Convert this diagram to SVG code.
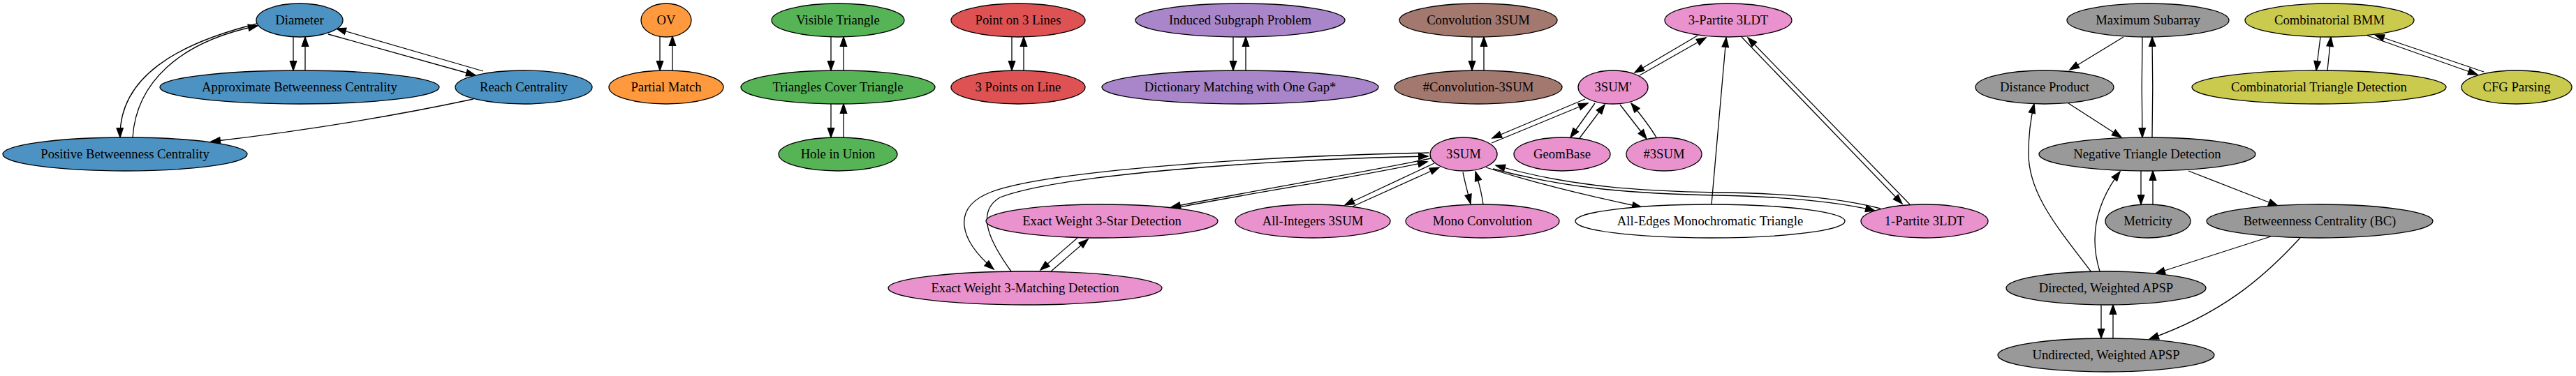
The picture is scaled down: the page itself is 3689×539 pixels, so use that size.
<svg xmlns="http://www.w3.org/2000/svg" width="3689" height="539" viewBox="0 0 3689 539">
<style>
.n ellipse{stroke:#000;stroke-width:1.3}
.n text{font-family:"Liberation Serif","Times New Roman",serif;font-size:18.67px;text-anchor:middle;fill:#000}
.b ellipse{fill:#4c92c3}.o ellipse{fill:#ff993e}.g ellipse{fill:#56b356}.r ellipse{fill:#de5253}
.p ellipse{fill:#a985ca}.br ellipse{fill:#a3786f}.pk ellipse{fill:#e992ce}.gr ellipse{fill:#999999}
.ol ellipse{fill:#c9ca4e}.w ellipse{fill:#ffffff}
#edges path{fill:none;stroke:#000;stroke-width:1.3;marker-end:url(#arr)}
</style>
<defs>
<marker id="arr" markerUnits="userSpaceOnUse" markerWidth="16" markerHeight="12" refX="13.3" refY="4.67" orient="auto" overflow="visible">
<path d="M0,0 L13.3,4.67 L0,9.33 Z" fill="#000" stroke="#000" stroke-width="1.3"/>
</marker>
</defs>
<rect width="3689" height="539" fill="#fff"/>
<g id="edges">
<path d="M420,53 L420,101"/>
<path d="M437,101 L437,53"/>
<path d="M470,49 L681,108"/>
<path d="M692,102 L482,41"/>
<path d="M368,34 C255,62 170,110 172,197"/>
<path d="M190,197 C195,120 255,60 369,37"/>
<path d="M678,142 Q500,180 302,203"/>
<path d="M945,52 L945,101"/>
<path d="M963,101 L963,52"/>
<path d="M1190,53 L1190,101"/>
<path d="M1208,101 L1208,53"/>
<path d="M1190,149 L1190,197"/>
<path d="M1208,197 L1208,149"/>
<path d="M1449,53 L1449,101"/>
<path d="M1466,101 L1466,53"/>
<path d="M1766,53 L1766,101"/>
<path d="M1784,101 L1784,53"/>
<path d="M2108,53 L2108,101"/>
<path d="M2125,101 L2125,53"/>
<path d="M2431,51 L2341,104"/>
<path d="M2348,108 L2443,54"/>
<path d="M2270,142 L2137,198"/>
<path d="M2136,205 L2274,148"/>
<path d="M2284,148 L2249,197"/>
<path d="M2262,198 L2298,150"/>
<path d="M2320,150 L2358,199"/>
<path d="M2372,197 C2362,180 2350,165 2336,148"/>
<path d="M2095,247 C2098,262 2102,277 2106,292"/>
<path d="M2124,293 C2122,278 2118,262 2113,246"/>
<path d="M2128,240 C2190,260 2270,280 2351,297"/>
<path d="M2451,293 L2472,54"/>
<path d="M2494,53 L2724,292"/>
<path d="M2735,293 L2503,54"/>
<path d="M2138,242 C2250,272 2350,278 2460,280 C2560,282 2630,289 2685,302"/>
<path d="M2693,299 C2640,285 2560,277 2460,276 C2350,274 2250,268 2142,237"/>
<path d="M2049,227 C1950,248 1800,272 1677,297"/>
<path d="M1689,297 C1800,275 1950,253 2044,232"/>
<path d="M2054,234 L1926,294"/>
<path d="M1937,296 L2061,240"/>
<path d="M2046,219 C1800,224 1500,245 1420,275 C1360,298 1375,345 1423,386"/>
<path d="M1448,389 C1420,350 1395,305 1432,283 C1510,252 1800,229 2045,224"/>
<path d="M1543,341 L1490,387"/>
<path d="M1505,389 L1558,343"/>
<path d="M3041,53 L2964,100"/>
<path d="M3068,53 C3067,100 3067,150 3068,197"/>
<path d="M3082,197 C3083,150 3083,100 3082,53"/>
<path d="M2962,148 L3038,197"/>
<path d="M3066,245 L3066,293"/>
<path d="M3083,293 L3083,245"/>
<path d="M3134,245 L3262,295"/>
<path d="M2995,390 C2950,330 2905,280 2905,220 C2905,190 2908,170 2913,149"/>
<path d="M3007,389 C2995,350 2995,300 3036,246"/>
<path d="M3252,339 L3087,392"/>
<path d="M3294,341 C3240,400 3180,450 3078,486"/>
<path d="M3009,437 L3009,485"/>
<path d="M3026,485 L3026,437"/>
<path d="M3323,53 L3317,101"/>
<path d="M3333,101 L3338,53"/>
<path d="M3390,51 L3548,107"/>
<path d="M3557,103 L3401,50"/>
</g>
<g id="n1" class="n b"><ellipse cx="429" cy="29" rx="62" ry="24"/><text x="429" y="35">Diameter</text></g>
<g id="n2" class="n b"><ellipse cx="429" cy="125" rx="200" ry="24"/><text x="429" y="131">Approximate Betweenness Centrality</text></g>
<g id="n3" class="n b"><ellipse cx="750" cy="125" rx="98" ry="24"/><text x="750" y="131">Reach Centrality</text></g>
<g id="n4" class="n b"><ellipse cx="179" cy="221" rx="175" ry="24"/><text x="179" y="227">Positive Betweenness Centrality</text></g>
<g id="n5" class="n o"><ellipse cx="954" cy="29" rx="36" ry="24"/><text x="954" y="35">OV</text></g>
<g id="n6" class="n o"><ellipse cx="954" cy="125" rx="82" ry="24"/><text x="954" y="131">Partial Match</text></g>
<g id="n7" class="n g"><ellipse cx="1200" cy="29" rx="95" ry="24"/><text x="1200" y="35">Visible Triangle</text></g>
<g id="n8" class="n g"><ellipse cx="1200" cy="125" rx="139" ry="24"/><text x="1200" y="131">Triangles Cover Triangle</text></g>
<g id="n9" class="n g"><ellipse cx="1200" cy="221" rx="85" ry="24"/><text x="1200" y="227">Hole in Union</text></g>
<g id="n10" class="n r"><ellipse cx="1458" cy="29" rx="96" ry="24"/><text x="1458" y="35">Point on 3 Lines</text></g>
<g id="n11" class="n r"><ellipse cx="1458" cy="125" rx="96" ry="24"/><text x="1458" y="131">3 Points on Line</text></g>
<g id="n12" class="n p"><ellipse cx="1776" cy="29" rx="150" ry="24"/><text x="1776" y="35">Induced Subgraph Problem</text></g>
<g id="n13" class="n p"><ellipse cx="1776" cy="125" rx="198" ry="24"/><text x="1776" y="131">Dictionary Matching with One Gap*</text></g>
<g id="n14" class="n br"><ellipse cx="2117" cy="29" rx="113" ry="24"/><text x="2117" y="35">Convolution 3SUM</text></g>
<g id="n15" class="n br"><ellipse cx="2117" cy="125" rx="120" ry="24"/><text x="2117" y="131">#Convolution-3SUM</text></g>
<g id="n16" class="n pk"><ellipse cx="2475" cy="29" rx="91" ry="24"/><text x="2475" y="35">3-Partite 3LDT</text></g>
<g id="n17" class="n pk"><ellipse cx="2310" cy="125" rx="50" ry="24"/><text x="2310" y="131">3SUM'</text></g>
<g id="n18" class="n pk"><ellipse cx="2096" cy="221" rx="48" ry="24"/><text x="2096" y="227">3SUM</text></g>
<g id="n19" class="n pk"><ellipse cx="2237" cy="221" rx="69" ry="24"/><text x="2237" y="227">GeomBase</text></g>
<g id="n20" class="n pk"><ellipse cx="2383" cy="221" rx="54" ry="24"/><text x="2383" y="227">#3SUM</text></g>
<g id="n21" class="n pk"><ellipse cx="1578" cy="317" rx="166" ry="24"/><text x="1578" y="323">Exact Weight 3-Star Detection</text></g>
<g id="n22" class="n pk"><ellipse cx="1880" cy="317" rx="111" ry="24"/><text x="1880" y="323">All-Integers 3SUM</text></g>
<g id="n23" class="n pk"><ellipse cx="2123" cy="317" rx="110" ry="24"/><text x="2123" y="323">Mono Convolution</text></g>
<g id="n24" class="n w"><ellipse cx="2449" cy="317" rx="193" ry="24"/><text x="2449" y="323">All-Edges Monochromatic Triangle</text></g>
<g id="n25" class="n pk"><ellipse cx="2756" cy="317" rx="91" ry="24"/><text x="2756" y="323">1-Partite 3LDT</text></g>
<g id="n26" class="n pk"><ellipse cx="1468" cy="413" rx="196" ry="24"/><text x="1468" y="419">Exact Weight 3-Matching Detection</text></g>
<g id="n27" class="n gr"><ellipse cx="3076" cy="29" rx="116" ry="24"/><text x="3076" y="35">Maximum Subarray</text></g>
<g id="n28" class="n ol"><ellipse cx="3336" cy="29" rx="121" ry="24"/><text x="3336" y="35">Combinatorial BMM</text></g>
<g id="n29" class="n gr"><ellipse cx="2928" cy="125" rx="99" ry="24"/><text x="2928" y="131">Distance Product</text></g>
<g id="n30" class="n ol"><ellipse cx="3321" cy="125" rx="182" ry="24"/><text x="3321" y="131">Combinatorial Triangle Detection</text></g>
<g id="n31" class="n ol"><ellipse cx="3604" cy="125" rx="79" ry="24"/><text x="3604" y="131">CFG Parsing</text></g>
<g id="n32" class="n gr"><ellipse cx="3075" cy="221" rx="155" ry="24"/><text x="3075" y="227">Negative Triangle Detection</text></g>
<g id="n33" class="n gr"><ellipse cx="3076" cy="317" rx="61" ry="24"/><text x="3076" y="323">Metricity</text></g>
<g id="n34" class="n gr"><ellipse cx="3322" cy="317" rx="162" ry="24"/><text x="3322" y="323">Betweenness Centrality (BC)</text></g>
<g id="n35" class="n gr"><ellipse cx="3016" cy="413" rx="143" ry="24"/><text x="3016" y="419">Directed, Weighted APSP</text></g>
<g id="n36" class="n gr"><ellipse cx="3016" cy="509" rx="155" ry="24"/><text x="3016" y="515">Undirected, Weighted APSP</text></g>
</svg>
